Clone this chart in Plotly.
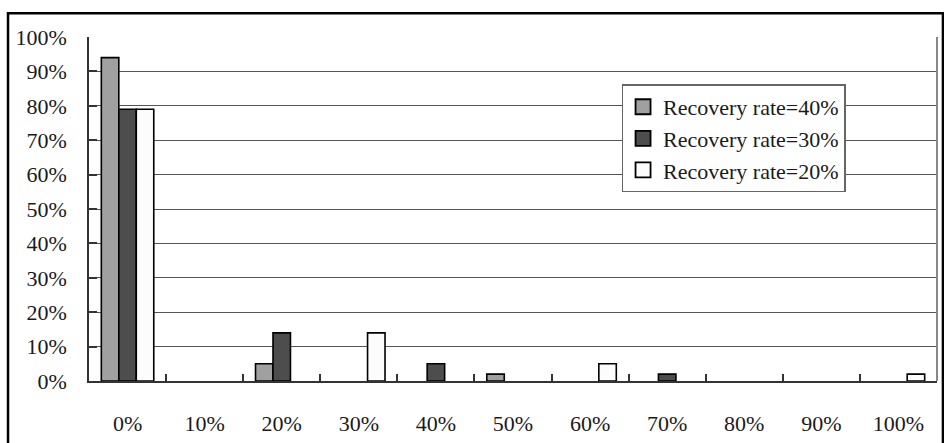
import plotly.graph_objects as go

# Loss-rate buckets on the x axis
categories = ["0%", "10%", "20%", "30%", "40%", "50%", "60%", "70%", "80%", "90%", "100%"]

# Share of outcomes (%) per bucket for each recovery-rate assumption
rate40 = [94, 0, 5, 0, 0, 2, 0, 0, 0, 0, 0]
rate30 = [79, 0, 14, 0, 5, 0, 0, 2, 0, 0, 0]
rate20 = [79, 0, 0, 14, 0, 0, 5, 0, 0, 0, 2]

series = [
    ("Recovery rate=40%", rate40, "#a0a0a0"),
    ("Recovery rate=30%", rate30, "#4d4d4d"),
    ("Recovery rate=20%", rate20, "#fcfcfc"),
]

FONT = "Liberation Serif"

fig = go.Figure()
for name, vals, color in series:
    # empty buckets get no outline so nothing is drawn on the baseline
    widths = [1.6 if v > 0 else 0 for v in vals]
    fig.add_trace(go.Bar(
        x=categories, y=vals, name=name, showlegend=False,
        marker=dict(color=color, line=dict(color="black", width=widths)),
    ))

# Legend entries drawn as large outlined squares
for name, vals, color in series:
    fig.add_trace(go.Scatter(
        x=[None], y=[None], mode="markers", name=name,
        marker=dict(symbol="square", size=15, color=color,
                    line=dict(color="black", width=1.8)),
    ))

fig.update_layout(
    width=944, height=443,
    margin=dict(l=89, r=7, t=37, b=59),
    paper_bgcolor="white", plot_bgcolor="white",
    barmode="group", bargap=0.32, bargroupgap=0,
    font=dict(family=FONT, size=22, color="#1a1a1a"),
    showlegend=True,
    legend=dict(
        x=0.628, y=0.862, xanchor="left", yanchor="top",
        bgcolor="white", bordercolor="#666", borderwidth=1.5,
        font=dict(family=FONT, size=22, color="#1a1a1a"),
        tracegroupgap=0, itemwidth=30,
    ),
)

fig.update_xaxes(
    type="category", tickson="boundaries",
    ticks="inside", ticklen=7, tickcolor="#333", tickwidth=1.5,
    showline=True, linecolor="#333", linewidth=1.5,
    showgrid=False, ticklabelstandoff=22,
    tickfont=dict(family=FONT, size=22, color="#1a1a1a"),
)

fig.update_yaxes(
    range=[0, 100], dtick=10, ticksuffix="%",
    ticks="inside", ticklen=8, tickcolor="#333", tickwidth=1.5,
    showline=True, linecolor="#333", linewidth=1.5,
    showgrid=True, gridcolor="#555", gridwidth=1,
    zeroline=False, ticklabelstandoff=16,
    tickfont=dict(family=FONT, size=22, color="#1a1a1a"),
)

# Right border of the plotting area and the outer frame of the chart
fig.add_shape(type="line", xref="paper", yref="paper",
              x0=1, x1=1, y0=0, y1=1, line=dict(color="#888", width=2))
fig.add_shape(type="rect", xref="paper", yref="paper",
              x0=-0.0955, x1=1.007, y0=-0.3, y1=1.069,
              line=dict(color="black", width=2.5), layer="above")

fig.write_html("out.html")
